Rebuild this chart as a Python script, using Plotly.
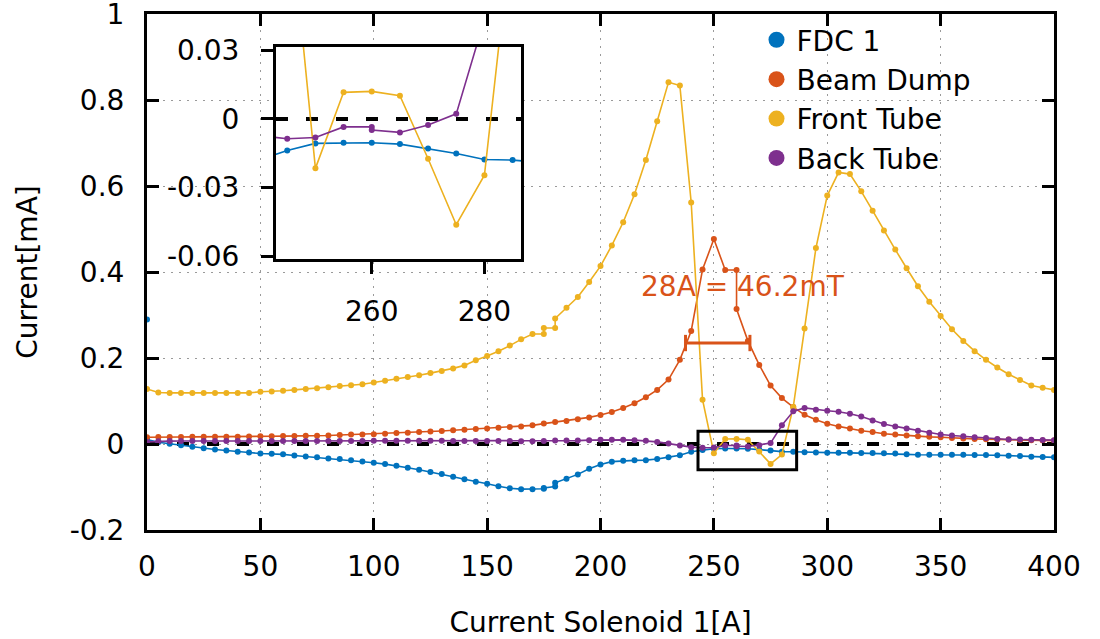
import plotly.graph_objects as go

# ---------------- data ----------------
step5 = lambda a, b: list(range(a, b + 1, 5))

fdc_x = [0, None] + step5(0, 175) + [175, 180, 180] + step5(185, 400)
fdc_y = [0.29, None,
         0.0104, 0.004, 0.0005, -0.003, -0.0065, -0.0097, -0.0127, -0.015, -0.018, -0.0197,
         -0.022, -0.0227, -0.024, -0.0266, -0.029, -0.031, -0.0336, -0.035, -0.0375, -0.0405,
         -0.0435, -0.0467, -0.0505, -0.055, -0.060, -0.065, -0.070, -0.076, -0.082, -0.088,
         -0.0925, -0.098, -0.103, -0.105, -0.105, -0.104, -0.102, -0.099, -0.090,
         -0.0806, -0.0706, -0.0575, -0.0475, -0.041, -0.039, -0.038, -0.0375, -0.035, -0.0305,
         -0.026, -0.018, -0.0138, -0.0107, -0.0104, -0.0104, -0.011, -0.0129, -0.0151, -0.0177,
         -0.018, -0.019, -0.0195, -0.020, -0.0205, -0.0205, -0.021, -0.021, -0.0215, -0.022,
         -0.024, -0.025, -0.025, -0.025, -0.025, -0.025, -0.0255, -0.0255, -0.026, -0.027,
         -0.028, -0.0295, -0.030, -0.031]

dump_x = step5(0, 260) + [260] + step5(265, 400)
dump_y = [0.0157, 0.0165, 0.0165, 0.0165, 0.0167, 0.0167, 0.017, 0.017, 0.017, 0.0175,
          0.018, 0.018, 0.0185, 0.0185, 0.019, 0.019, 0.020, 0.021, 0.022, 0.022,
          0.023, 0.024, 0.0255, 0.0262, 0.028, 0.029, 0.0305, 0.032, 0.0335, 0.035,
          0.036, 0.038, 0.0397, 0.041, 0.0435, 0.0475, 0.051, 0.0537, 0.0574, 0.062,
          0.0676, 0.0745, 0.0838, 0.095, 0.109, 0.126, 0.150, 0.196, 0.263, 0.406,
          0.477, 0.405, 0.405, 0.314, 0.240, 0.184, 0.136, 0.107, 0.086, 0.068,
          0.0567, 0.047, 0.041, 0.036, 0.031, 0.028, 0.024, 0.022, 0.0197, 0.018,
          0.0167, 0.0157, 0.014, 0.0127, 0.012, 0.011, 0.0105, 0.0105, 0.009, 0.009,
          0.008, 0.008]

front_x = step5(0, 175) + [175, 180, 180] + step5(185, 400)
front_y = [0.128, 0.120, 0.119, 0.119, 0.119, 0.119, 0.119, 0.119, 0.119, 0.119,
           0.1215, 0.122, 0.124, 0.126, 0.128, 0.130, 0.132, 0.135, 0.137, 0.139,
           0.143, 0.147, 0.152, 0.156, 0.160, 0.165, 0.170, 0.176, 0.183, 0.195,
           0.205, 0.216, 0.229, 0.2435, 0.256, 0.256, 0.270, 0.270, 0.292,
           0.317, 0.342, 0.377, 0.414, 0.462, 0.516, 0.581, 0.661, 0.751, 0.842,
           0.834, 0.562, 0.103, -0.0216, 0.0116, 0.012, 0.0101, -0.0174, -0.0462, -0.0246,
           0.086, 0.269, 0.456, 0.578, 0.632, 0.628, 0.588, 0.543, 0.497, 0.4525,
           0.409, 0.367, 0.331, 0.298, 0.267, 0.240, 0.216, 0.196, 0.178, 0.1625,
           0.149, 0.136, 0.131, 0.126]

back_x = step5(0, 260) + [260] + step5(265, 400)
back_y = [0.005, 0.0065, 0.0068, 0.007, 0.007, 0.007, 0.007, 0.007, 0.007, 0.007,
          0.0072, 0.0072, 0.0072, 0.0072, 0.0072, 0.0072, 0.0072, 0.0072, 0.0072, 0.0072,
          0.0074, 0.0074, 0.0074, 0.0074, 0.0074, 0.0074, 0.0074, 0.0072, 0.0072, 0.0072,
          0.0072, 0.007, 0.0068, 0.0065, 0.0065, 0.007, 0.008, 0.008, 0.008, 0.009,
          0.0097, 0.0097, 0.0097, 0.009, 0.0074, 0.005, 0.001, -0.0035, -0.0072, -0.0087,
          -0.0081, -0.0035, -0.0035, -0.0049, -0.0059, -0.0027, 0.0022, 0.0435, 0.076, 0.084,
          0.080, 0.0775, 0.075, 0.0706, 0.064, 0.055, 0.0467, 0.041, 0.036, 0.031,
          0.026, 0.022, 0.0197, 0.018, 0.0157, 0.0143, 0.012, 0.0104, 0.0104, 0.0097,
          0.0095, 0.009]

series_names = ["FDC 1", "Beam Dump", "Front Tube", "Back Tube"]
series_colors = ["#0072BD", "#D95319", "#EDB120", "#7E2F8E"]
series_x = [fdc_x, dump_x, front_x, back_x]
series_y = [fdc_y, dump_y, front_y, back_y]

main_xrange = [0, 400]
main_yrange = [-0.2, 1.0005]
main_yticks = [-0.2, 0, 0.2, 0.4, 0.6, 0.8, 1.0]
main_yticktext = ["-0.2", "0", "0.2", "0.4", "0.6", "0.8", "1"]

inset_xrange = [243, 286.5]
inset_yrange = [-0.061, 0.0315]
inset_xticks = [260, 280]
inset_yticks = [-0.06, -0.03, 0, 0.03]
inset_yticktext = ["-0.06", "-0.03", "0", "0.03"]

fwhm_x = [237.5, 265.9]
fwhm_y = 0.235
fwhm_label = "28A = 46.2mT"

FONT = "DejaVu Sans"
FS = 28

# ---------------- figure ----------------
fig = go.Figure()

# zero reference lines
for xa, ya, xr in [("x", "y", main_xrange), ("x2", "y2", inset_xrange)]:
    fig.add_trace(go.Scatter(x=xr, y=[0, 0], mode="lines", xaxis=xa, yaxis=ya,
                             line=dict(color="black", width=4, dash="12px,18px"),
                             showlegend=False, hoverinfo="skip"))

for name, col, xs, ys in zip(series_names, series_colors, series_x, series_y):
    for xa, ya in [("x", "y"), ("x2", "y2")]:
        fig.add_trace(go.Scatter(x=xs, y=ys, mode="lines+markers", name=name,
                                 xaxis=xa, yaxis=ya, legendgroup=name,
                                 line=dict(color=col, width=1.6),
                                 marker=dict(color=col, size=6),
                                 connectgaps=False, showlegend=False))
    # legend key (marker only)
    fig.add_trace(go.Scatter(x=[None], y=[None], mode="markers", name=name,
                             legendgroup=name, marker=dict(color=col, size=16),
                             showlegend=True))

axis_common = dict(showline=True, linecolor="black", linewidth=3, zeroline=False,
                   tickcolor="black", tickwidth=3, automargin=False,
                   ticklabeloverflow="allow",
                   tickfont=dict(family=FONT, size=FS, color="black"))

fig.update_layout(
    width=1100, height=639, template="none",
    margin=dict(l=147, r=46, t=14, b=109),
    paper_bgcolor="white", plot_bgcolor="white",
    font=dict(family=FONT, size=FS, color="black"),
    xaxis=dict(range=main_xrange, dtick=50, ticks="inside", ticklen=12, mirror="ticks",
               showgrid=True, gridcolor="#9a9a9a", gridwidth=1, griddash="2px,6px",
               ticklabelstandoff=9,
               title=dict(text="Current Solenoid 1[A]", standoff=33,
                          font=dict(family=FONT, size=FS)),
               **axis_common),
    yaxis=dict(range=main_yrange, tickvals=main_yticks, ticktext=main_yticktext,
               ticks="inside", ticklen=12, mirror="ticks",
               showgrid=True, gridcolor="#9a9a9a", gridwidth=1, griddash="2px,6px",
               ticklabelstandoff=14,
               title=dict(text="Current[mA]", standoff=24,
                          font=dict(family=FONT, size=FS)),
               **axis_common),
    xaxis2=dict(domain=[0.1422, 0.4124], anchor="y2", range=inset_xrange,
                tickvals=inset_xticks, ticks="outside", ticklen=12, mirror=True,
                showgrid=False, ticklabelstandoff=14, **axis_common),
    yaxis2=dict(domain=[0.526, 0.9365], anchor="x2", range=inset_yrange,
                tickvals=inset_yticks, ticktext=inset_yticktext,
                ticks="outside", ticklen=12, mirror=True,
                showgrid=False, ticklabelstandoff=16, **axis_common),
    legend=dict(x=0.672, y=0.998, xanchor="left", yanchor="top",
                bgcolor="rgba(0,0,0,0)", borderwidth=0,
                font=dict(family=FONT, size=FS), tracegroupgap=0,
                itemwidth=30),
    showlegend=True,
)

# inset marker rectangle on main plot
fig.add_shape(type="rect", xref="x", yref="y", x0=inset_xrange[0], x1=inset_xrange[1],
              y0=-0.06, y1=0.03, line=dict(color="black", width=3), layer="above")

# FWHM bar
red = series_colors[1]
fig.add_shape(type="line", xref="x", yref="y", x0=fwhm_x[0], x1=fwhm_x[1],
              y0=fwhm_y, y1=fwhm_y, line=dict(color=red, width=3))
for xe in fwhm_x:
    fig.add_shape(type="line", xref="x", yref="y", x0=xe, x1=xe,
                  y0=fwhm_y - 0.019, y1=fwhm_y + 0.019, line=dict(color=red, width=3))
fig.add_annotation(x=263, y=0.366, xref="x", yref="y", text=fwhm_label,
                   showarrow=False, font=dict(family=FONT, size=FS, color=red))

fig.write_html("out.html")
